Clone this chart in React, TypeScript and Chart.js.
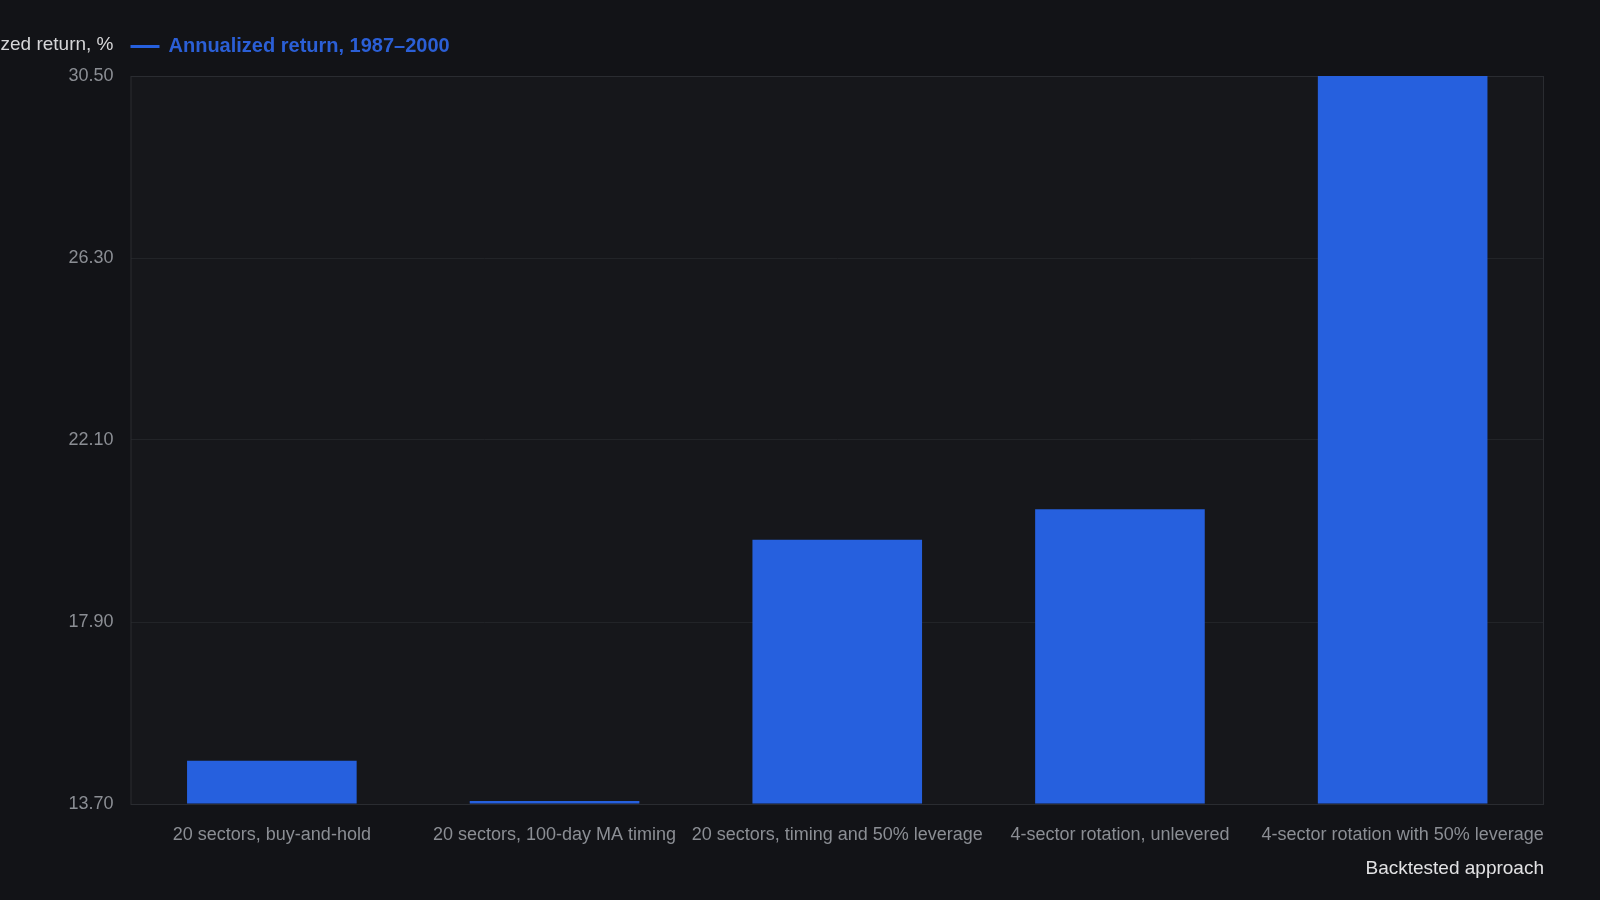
import { useEffect, useRef } from "react";
import { Chart, registerables } from "chart.js";

Chart.register(...registerables);

const categories = [
  "20 sectors, buy-and-hold",
  "20 sectors, 100-day MA timing",
  "20 sectors, timing and 50% leverage",
  "4-sector rotation, unlevered",
  "4-sector rotation with 50% leverage",
];
const annualizedReturn = [14.7, 13.7, 19.8, 20.5, 30.5];
const seriesLabel = "Annualized return, 1987–2000";
const yTitle = "Annualized return, %";
const xTitle = "Backtested approach";
const yMin = 13.7;
const yMax = 30.5;
const yStep = 4.2;

const FONT = "'Liberation Sans', Arial, Helvetica, sans-serif";
const BLUE = "#2660de";

// plot background, frame, and the top-left y title + legend item
const decorations = {
  id: "decorations",
  beforeDraw(chart: Chart) {
    const { ctx, chartArea } = chart;
    ctx.save();
    ctx.fillStyle = "#121317";
    ctx.fillRect(0, 0, chart.width, chart.height);
    ctx.fillStyle = "#16171b";
    ctx.fillRect(
      chartArea.left,
      chartArea.top,
      chartArea.right - chartArea.left,
      chartArea.bottom - chartArea.top
    );
    ctx.restore();
  },
  beforeDatasetsDraw(chart: Chart) {
    const { ctx, chartArea } = chart;
    ctx.save();
    ctx.strokeStyle = "#2a2c31";
    ctx.lineWidth = 1;
    ctx.strokeRect(
      chartArea.left + 0.5,
      chartArea.top + 0.5,
      chartArea.right - chartArea.left - 1,
      chartArea.bottom - chartArea.top
    );
    ctx.restore();
  },
  afterDraw(chart: Chart) {
    const { ctx, chartArea } = chart;
    ctx.save();
    ctx.textBaseline = "middle";
    ctx.font = `19px ${FONT}`;
    ctx.fillStyle = "#d6d6d8";
    ctx.textAlign = "right";
    ctx.fillText(yTitle, chartArea.left - 17, 45);

    ctx.strokeStyle = BLUE;
    ctx.lineWidth = 3;
    ctx.beginPath();
    ctx.moveTo(chartArea.left, 46.5);
    ctx.lineTo(chartArea.left + 29, 46.5);
    ctx.stroke();

    ctx.font = `bold 20px ${FONT}`;
    ctx.fillStyle = "#2b5fd6";
    ctx.textAlign = "left";
    ctx.fillText(chart.data.datasets[0].label as string, chartArea.left + 38, 46.5);
    ctx.restore();
  },
};

const App = () => {
  const canvasRef = useRef<HTMLCanvasElement | null>(null);
  const chartRef = useRef<Chart | null>(null);

  useEffect(() => {
    document.body.style.margin = "0";
    document.body.style.background = "#121317";
    if (!canvasRef.current) return;
    chartRef.current?.destroy();

    chartRef.current = new Chart(canvasRef.current, {
      type: "bar",
      data: {
        labels: categories,
        datasets: [
          {
            label: seriesLabel,
            data: annualizedReturn,
            backgroundColor: BLUE,
            borderWidth: 0,
            base: yMin,
            minBarLength: 3,
            clip: false,
            categoryPercentage: 0.8,
            barPercentage: 0.75,
          },
        ],
      },
      options: {
        animation: false,
        responsive: false,
        maintainAspectRatio: false,
        layout: { padding: { top: 76, right: 56, bottom: 20, left: 0 } },
        plugins: {
          legend: { display: false },
          tooltip: { enabled: false },
        },
        scales: {
          x: {
            grid: { display: false, drawTicks: false },
            border: { display: false },
            ticks: {
              color: "#8b8e94",
              font: { family: FONT, size: 18 },
              padding: 20,
              maxRotation: 0,
              autoSkip: false,
            },
            title: {
              display: true,
              text: xTitle,
              align: "end",
              color: "#e2e2e4",
              font: { family: FONT, size: 19 },
              padding: { top: 4, bottom: 0 },
            },
            afterFit: (scale: any) => {
              scale.height = 76;
            },
          },
          y: {
            min: yMin,
            max: yMax,
            grid: { color: "#222428", drawTicks: false },
            border: { display: false },
            ticks: {
              stepSize: yStep,
              color: "#8b8e94",
              font: { family: FONT, size: 18 },
              padding: 17,
              callback: (v: any) => Number(v).toFixed(2),
            },
            afterFit: (scale: any) => {
              scale.width = 130.5;
            },
          },
        },
      },
      plugins: [decorations],
    });

    return () => {
      chartRef.current?.destroy();
      chartRef.current = null;
    };
  }, []);

  return (
    <div style={{ width: 1600, height: 900, background: "#121317" }}>
      <canvas ref={canvasRef} width={1600} height={900} />
    </div>
  );
};

export default App;
